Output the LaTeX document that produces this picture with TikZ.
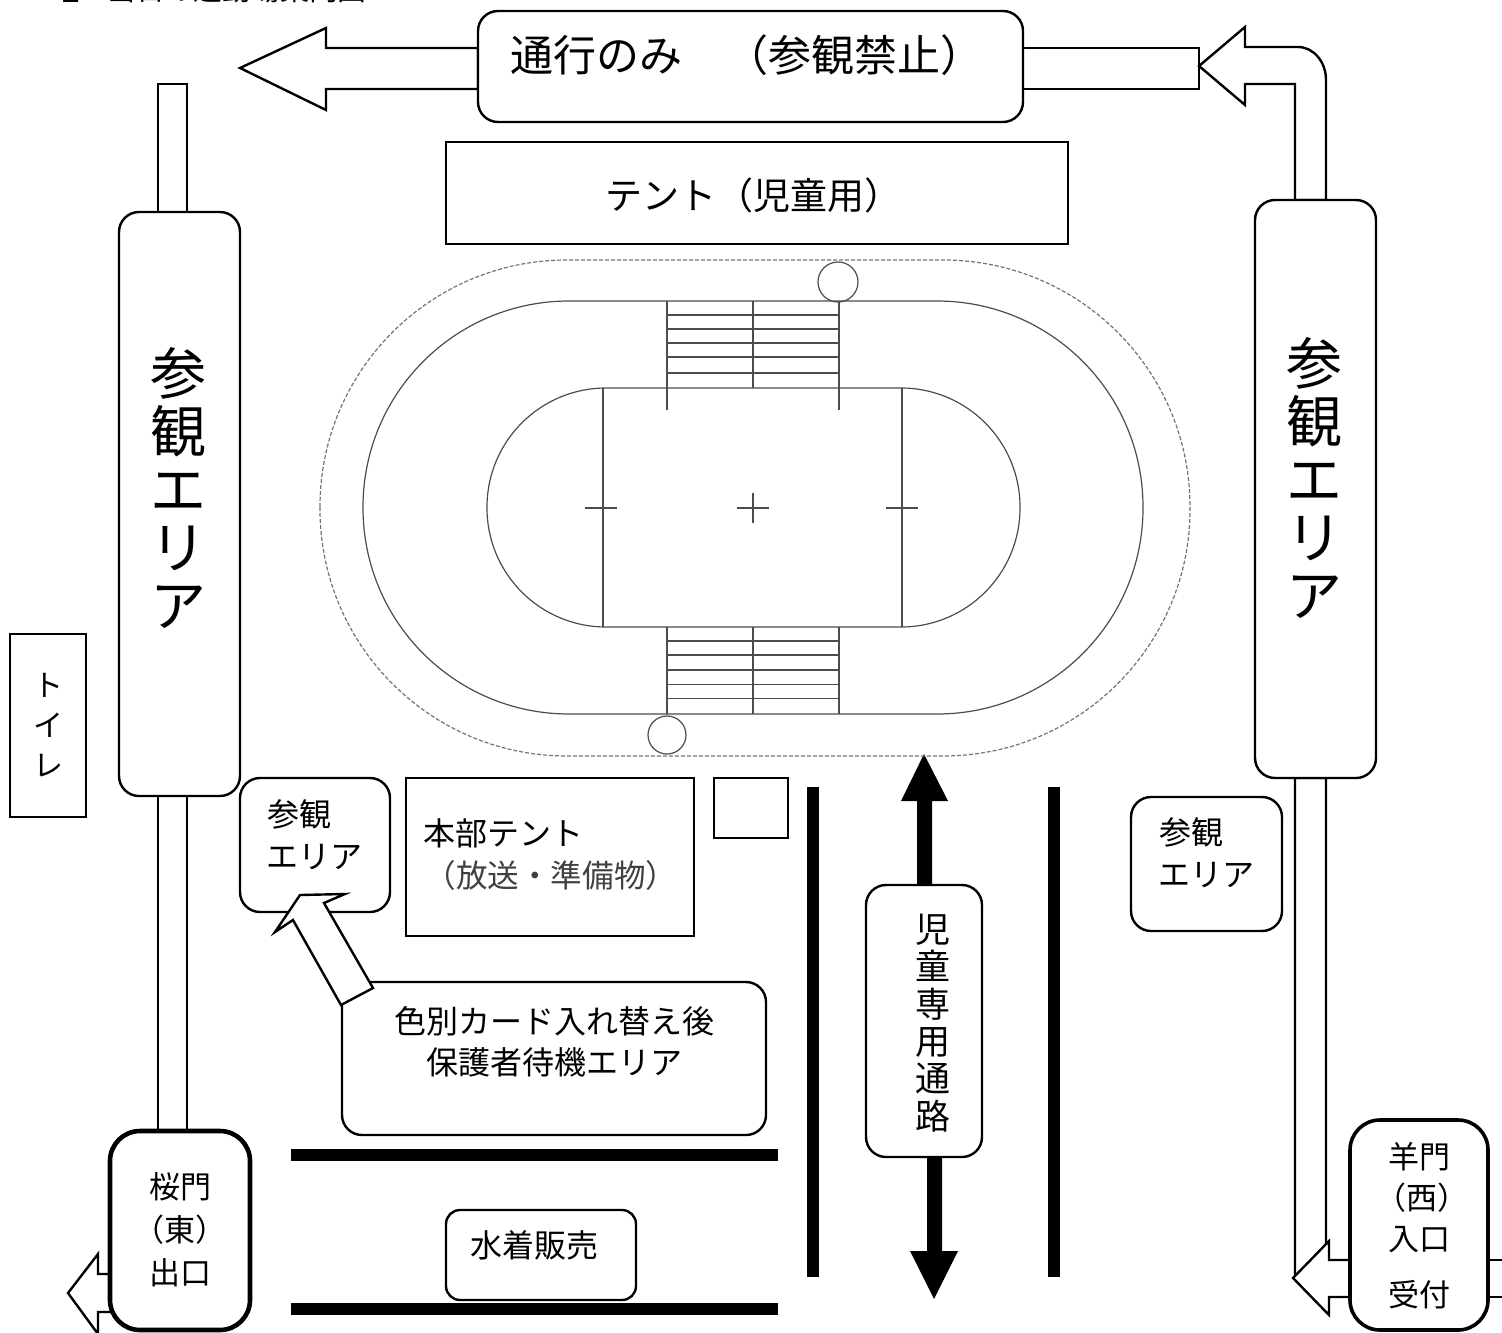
\documentclass[tikz,border=0pt]{standalone}
\usepackage{fontspec}
\setmainfont{Noto Sans CJK JP}

\tikzset{
	plainbox/.style = {draw, fill = white, line width = 1.2pt, inner sep = 0pt, outer sep = 0pt},
	roundbox/.style = {plainbox, rounded corners = 10pt},
	gatebox/.style = {plainbox, rounded corners = 15pt, line width = 2.3pt},
	hollow/.style = {draw, fill = white, line width = 1.2pt},
	solidarrow/.style = {fill = black},
	barline/.style = {fill = black},
	trackline/.style = {draw = black!70, line width = 0.6pt},
	sizeS/.style = {inner sep = 0pt, align = center, font = \fontsize{16}{21}\selectfont},
	sizeM/.style = {inner sep = 0pt, align = center, font = \fontsize{18.5}{19.5}\selectfont},
	sizeL/.style = {inner sep = 0pt, align = center, font = \fontsize{21.5}{22.5}\selectfont},
	sizeXL/.style = {inner sep = 0pt, align = center, font = \fontsize{28}{29}\selectfont}
}

\begin{document}
\begin{tikzpicture}[x = 0.5pt, y = -0.5pt]
	\useasboundingbox (0,0) rectangle (1502,1332);

	% walkways
	\path[hollow] (240,68) -- (326,28) -- (326,48) -- (478,48) -- (478,89) -- (326,89) -- (326,110) -- cycle;
	\path[hollow] (1023,48) -- (1199,48) -- (1199,89) -- (1023,89) -- cycle;
	\path[hollow] (1199,66) -- (1245,27) -- (1245,47) -- (1298,47) arc[start angle = 90, end angle = 0, x radius = 28, y radius = -33]
		-- (1326,200) -- (1295,200) -- (1295,84) -- (1245,84) -- (1245,105) -- cycle;
	\path[hollow] (158,84) rectangle (187,212);
	\path[hollow] (158,796) rectangle (187,1131);
	\path[hollow] (1295,778) -- (1326,778) -- (1326,1260) -- (1295,1278) -- cycle;
	\path[hollow] (1293,1278) -- (1329,1241) -- (1329,1260) -- (1351,1260) -- (1351,1297) -- (1329,1297) -- (1329,1315) -- cycle;
	\path[hollow] (1488,1260) -- (1510,1260) (1510,1297) -- (1488,1297);
	\path[hollow] (68,1293) -- (98,1254) -- (98,1274) -- (111,1274) -- (111,1312) -- (98,1312) -- (98,1334) -- cycle;

	% child route
	\path[solidarrow] (924,754) -- (948,801) -- (932,801) -- (932,885) -- (917,885) -- (917,801) -- (901,801) -- cycle;
	\path[solidarrow] (934,1299) -- (910,1251) -- (927,1251) -- (927,1157) -- (942,1157) -- (942,1251) -- (958,1251) -- cycle;

	% fences
	\fill[barline] (807,787) rectangle (819,1277);
	\fill[barline] (1048,787) rectangle (1060,1277);
	\fill[barline] (291,1149) rectangle (778,1161);
	\fill[barline] (291,1303) rectangle (778,1315);

	% track
	\draw[trackline, dashed, dash pattern = on 2pt off 1pt, draw = black!55] (320,260) [rounded corners = 123.5pt] rectangle (1190,756);
	\draw[trackline, rounded corners = 103pt] (363,301) rectangle (1143,714);
	\draw[trackline, rounded corners = 59.5pt] (487,388) rectangle (1020,627);
	\draw[trackline] (603,388) -- (603,627);
	\draw[trackline] (902,388) -- (902,627);
	\foreach \crossx in {601,753,902}
		\draw[trackline] (\crossx-16,508) -- (\crossx+16,508);
	\draw[trackline] (753,493) -- (753,523);
	\draw[trackline] (667,301) -- (667,410);
	\draw[trackline] (753,301) -- (753,388);
	\draw[trackline] (839,301) -- (839,410);
	\draw[trackline] (667,627) -- (667,714);
	\draw[trackline] (753,627) -- (753,714);
	\draw[trackline] (839,627) -- (839,714);
	\foreach \rungy in {315,329,343,357,373,641,655,670,684.5,698.5}
		\draw[trackline] (667,\rungy) -- (839,\rungy);
	\path
	(838,282) node[circle, trackline, minimum size = 20pt, inner sep = 0pt](markA){}
	(667,735) node[circle, trackline, minimum size = 19pt, inner sep = 0pt](markB){};

	% boxes
	\path
	(750.5,66.5) node[roundbox, minimum width = 272.5pt, minimum height = 55.5pt](pass){}
	(757,193) node[plainbox, minimum width = 311pt, minimum height = 51pt](tent){}
	(179.5,504) node[roundbox, minimum width = 60.5pt, minimum height = 292pt](viewL){}
	(1315.5,489) node[roundbox, minimum width = 60.5pt, minimum height = 289pt](viewR){}
	(48,725.5) node[plainbox, minimum width = 38pt, minimum height = 91.5pt](toilet){}
	(315,845) node[roundbox, minimum width = 75pt, minimum height = 67pt](waitL){}
	(550,857) node[plainbox, minimum width = 144pt, minimum height = 79pt](office){}
	(751,808) node[plainbox, minimum width = 37pt, minimum height = 30pt](shed){}
	(554,1058.5) node[roundbox, minimum width = 212pt, minimum height = 76.5pt](card){}
	(924,1021) node[roundbox, minimum width = 58pt, minimum height = 136pt](pupil){}
	(1206.5,864) node[roundbox, minimum width = 75.5pt, minimum height = 67pt](waitR){}
	(541,1255) node[roundbox, rounded corners = 7pt, minimum width = 95pt, minimum height = 45pt](swim){}
	(180,1230.5) node[gatebox, minimum width = 70pt, minimum height = 99.5pt](gateE){}
	(1419,1225) node[gatebox, line width = 1.8pt, minimum width = 69pt, minimum height = 105pt](gateW){};

	% arrow to the viewing area
	\path[hollow] (300,895) -- (345,894) -- (324,903) -- (373,988) -- (341,1005) -- (293,920) -- (275,932) -- cycle;

	% texts
	\node[sizeS, anchor = west, font = \fontsize{14.4}{15}\selectfont] (titleN) at (56,-8) {１};
	\node[sizeS, anchor = west, font = \fontsize{14.4}{15}\selectfont] (title) at (107,-10) {当日の運動場案内図};
	\node[sizeL] (passT) at (747,55) {通行のみ　（参観禁止）};
	\node[sizeM] (tentT) at (753,195) {テント（児童用）};
	\node[sizeXL] (viewLT) at (178,488) {参\\観\\エ\\リ\\ア};
	\node[sizeXL] (viewRT) at (1314,478) {参\\観\\エ\\リ\\ア};
	\node[sizeS, font = \fontsize{15}{20}\selectfont] (toiletT) at (48,725) {ト\\イ\\レ};
	\node[sizeS, anchor = north west] (waitLT) at (266,799) {\makebox[47pt][l]{参観}\\エリア};
	\node[sizeS, anchor = west] (officeA) at (423,833) {本部テント};
	\node[sizeS, anchor = west, text = black!75, font = \fontsize{15.8}{16.8}\selectfont] (officeB) at (424,875) {（放送・準備物）};
	\node[sizeS, font = \fontsize{16}{20.5}\selectfont] (cardT) at (554,1042) {色別カード入れ替え後\\保護者待機エリア};
	\node[sizeS, font = \fontsize{17.5}{18.7}\selectfont] (pupilT) at (933,1023) {児\\童\\専\\用\\通\\路};
	\node[sizeS, anchor = north west] (waitRT) at (1158,817) {\makebox[47pt][l]{参観}\\エリア};
	\node[sizeS, anchor = west] (swimT) at (470,1245) {水着販売};
	\node[sizeS, font = \fontsize{15.5}{21.5}\selectfont] (gateET) at (180,1230) {桜門\\（東）\\出口};
	\node[sizeS, font = \fontsize{15.5}{15.5}\selectfont] (gateWA) at (1419,1157) {羊門};
	\node[sizeS, font = \fontsize{15.5}{15.5}\selectfont] (gateWB) at (1422,1198) {（西）};
	\node[sizeS, font = \fontsize{15.5}{15.5}\selectfont] (gateWC) at (1419,1240) {入口};
	\node[sizeS, font = \fontsize{15.5}{15.5}\selectfont] (gateWD) at (1419,1295) {受付};
\end{tikzpicture}
\end{document}
